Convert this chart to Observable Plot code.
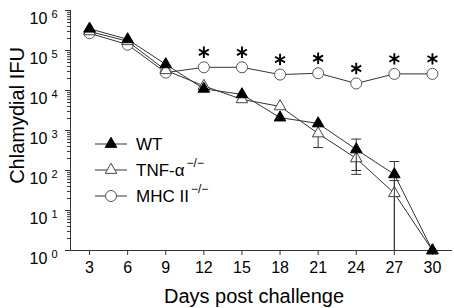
<!DOCTYPE html>
<html><head><meta charset="utf-8">
<script src="https://cdn.jsdelivr.net/npm/d3@7"></script>
<script src="https://cdn.jsdelivr.net/npm/@observablehq/plot@0.6"></script>
<style>
body{margin:0;background:#fff;}
#chart{position:relative;width:454px;height:308px;font-family:"Liberation Sans",Arial,sans-serif;}
#legend{position:absolute;left:0;top:0;pointer-events:none;}
</style></head><body><div id="chart"></div>
<script>
// ---- data ----
const days = [3, 6, 9, 12, 15, 18, 21, 24, 27, 30];
const wtValues  = [3.5e5, 1.9e5, 4.5e4, 1.1e4, 8.0e3, 2.1e3, 1.5e3, 335, 80, 1];
const tnfValues = [3.0e5, 1.7e5, 3.2e4, 1.3e4, 6.0e3, 4.0e3, 840, 200, 27, 1];
const mhcValues = [2.7e5, 1.4e5, 2.8e4, 3.8e4, 3.8e4, 2.5e4, 2.7e4, 1.5e4, 2.6e4, 2.6e4];
const seriesNames = ["WT", "TNF-α", "MHC II"];
const seriesSup = ["", "−/−", "−/−"];
// error bars
const errSeries = ["WT", "WT", "TNF-α", "TNF-α", "TNF-α"];
const errDays   = [24, 27, 21, 24, 27];
const errLow    = [100, 1, 375, 80, 1];
const errHigh   = [610, 168, 1300, 320, 56];
// significance markers (MHC II)
const sigDays = [12, 15, 18, 21, 24, 27, 30];
const yTickExponents = [0, 1, 2, 3, 4, 5, 6];
const xTickLabels = [3, 6, 9, 12, 15, 18, 21, 24, 27, 30];

// ---- tables ----
const valuesBySeries = {"WT": wtValues, "TNF-α": tnfValues, "MHC II": mhcValues};
const table = name => days.map((d, i) => ({day: d, v: valuesBySeries[name][i], s: name}));
const errTable = errSeries.map((s, i) => ({s, day: errDays[i], lo: errLow[i], hi: errHigh[i]}));
const errFor = name => errTable.filter(e => e.s === name);
const capsFor = name => errFor(name).flatMap(e => [
  ...(e.lo > 1 ? [{day: e.day, v: e.lo}] : []),
  {day: e.day, v: e.hi}
]);
const sigTable = sigDays.map(d => ({day: d, v: mhcValues[days.indexOf(d)]}));

const majorTicks = yTickExponents.map(e => Math.pow(10, e));
const minorTicks = d3.scaleLog().domain([1, 1e6]).ticks().filter(t => !majorTicks.includes(t));

const capSymbol = {draw(ctx, size) { const w = Math.sqrt(size) / 2; ctx.moveTo(-w, 0); ctx.lineTo(w, 0); }};

const lineColor = "#333";
const symbolStyle = {
  "WT": {symbol: "triangle", r: 4.3, fill: "#000", stroke: "#000"},
  "TNF-α": {symbol: "triangle", r: 4.3, fill: "#fff", stroke: "#444"},
  "MHC II": {symbol: "circle", r: 5.5, fill: "#fff", stroke: "#555"}
};

const seriesMarks = name => [
  Plot.line(table(name), {x: "day", y: "v", stroke: lineColor, strokeWidth: 1}),
  Plot.ruleX(errFor(name), {x: "day", y1: "lo", y2: "hi", stroke: lineColor, strokeWidth: 1}),
  Plot.dot(capsFor(name), {x: "day", y: "v", symbol: capSymbol, r: 5.6, stroke: lineColor, strokeWidth: 1}),
  Plot.dot(table(name), {x: "day", y: "v", ...symbolStyle[name], strokeWidth: 1})
];

const plot = Plot.plot({
  width: 454, height: 308,
  marginLeft: 70, marginRight: 3, marginTop: 10, marginBottom: 58,
  style: {fontFamily: "'Liberation Sans', Arial, sans-serif", fontSize: "16px", color: "#000", background: "#fff"},
  x: {domain: [1.5, 31.5]},
  y: {type: "log", domain: [1, 1e6]},
  marks: [
    Plot.axisY({ticks: minorTicks, tickSize: 3, tickFormat: () => "", label: null, stroke: lineColor}),
    Plot.axisY({ticks: majorTicks, tickSize: 5, tickPadding: 8, stroke: lineColor,
      tickFormat: d => "10^" + Math.round(Math.log10(d)),
      label: "Chlamydial IFU", labelAnchor: "center", labelArrow: "none", labelOffset: 61}),
    Plot.axisX({ticks: xTickLabels, tickSize: 5, tickPadding: 6, stroke: lineColor,
      label: "Days post challenge", labelAnchor: "center", labelArrow: "none", labelOffset: 52}),
    Plot.frame({anchor: "left", stroke: lineColor}),
    Plot.frame({anchor: "bottom", stroke: lineColor}),
    ...seriesMarks("MHC II"),
    ...seriesMarks("TNF-α"),
    ...seriesMarks("WT"),
    Plot.dot(sigTable, {x: "day", y: "v", symbol: "asterisk", r: 5.4, dy: -15, stroke: "#000", strokeWidth: 1.9})
  ]
});

const root = document.getElementById("chart");
root.appendChild(plot);

// superscript y tick labels
d3.select(plot).selectAll('g[aria-label="y-axis tick label"] text').each(function() {
  const t = d3.select(this);
  const [base, exp] = t.text().split("^");
  if (exp === undefined) return;
  t.text(null).attr("dy", "0.5em");
  t.append("tspan").text(base);
  t.append("tspan").attr("dx", 4).attr("dy", -5.5).attr("font-size", "11px").text(exp);
});
d3.select(plot).selectAll('g[aria-label="y-axis label"] text').attr("font-size", "20px").attr("dx", 15);
d3.select(plot).selectAll('g[aria-label="x-axis label"] text').attr("font-size", "20px").attr("dx", -7);

// legend overlay
const lg = d3.select(root).append("svg").attr("id", "legend").attr("width", 454).attr("height", 308)
  .attr("font-family", "'Liberation Sans', Arial, sans-serif");
const rowTop = 144, rowGap = 26;
seriesNames.forEach((name, i) => {
  const y = rowTop + i * rowGap;
  const g = lg.append("g").attr("transform", `translate(0,${y})`);
  g.append("line").attr("x1", 95).attr("x2", 127).attr("stroke", lineColor).attr("stroke-width", 1);
  const st = symbolStyle[name];
  const sym = st.symbol === "circle" ? d3.symbolCircle : d3.symbolTriangle;
  g.append("path").attr("transform", "translate(111,0)")
    .attr("d", d3.symbol(sym, Math.PI * st.r * st.r)())
    .attr("fill", st.fill).attr("stroke", st.stroke).attr("stroke-width", 1);
  const tx = g.append("text").attr("x", 136).attr("y", 6).attr("font-size", "17px").text(name);
  if (seriesSup[i]) tx.append("tspan").attr("dx", 2).attr("dy", -9).attr("font-size", "12px").text(seriesSup[i]);
});
</script></body></html>
